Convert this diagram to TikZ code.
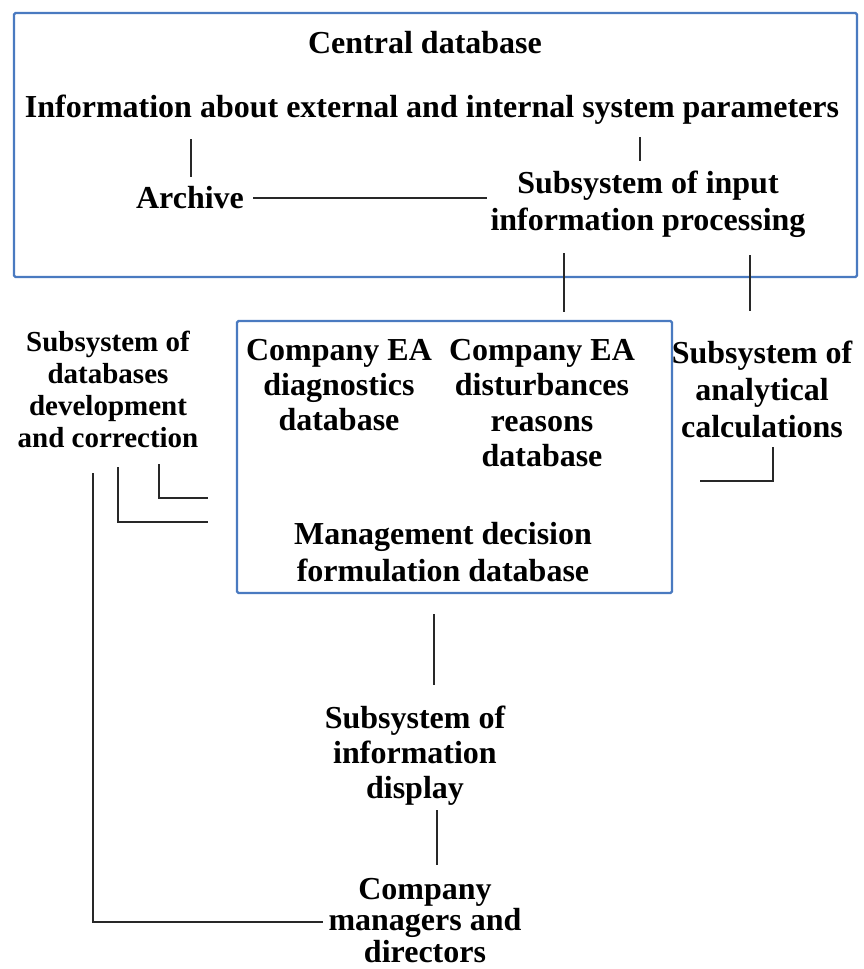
\documentclass[tikz,border=0pt]{standalone}
\usepackage{fontspec}
\setmainfont{Liberation Serif}
% fixed height for the first line of every label, so that north anchors line up
\newcommand\firststrut{\rule{0pt}{24pt}}
\definecolor{frameblue}{RGB}{74,122,192}
\definecolor{wire}{RGB}{40,40,40}
\begin{document}
\begin{tikzpicture}[x=1pt,y=-1pt,
  lbl/.style={inner sep=0pt, anchor=north, align=center,
    font=\fontsize{32}{#1}\selectfont\bfseries},
  lbl/.default=35,
  smalllbl/.style={inner sep=0pt, anchor=north, align=center,
    font=\fontsize{29}{#1}\selectfont\bfseries},
  smalllbl/.default=32,
  frame/.style={draw=frameblue, line width=2.4pt, rounded corners=1.5pt},
  wireline/.style={draw=wire, line width=2.2pt}]
\useasboundingbox (0,0) rectangle (864,969);

% the two framed groups
\draw[frame] (14,13) rectangle (857,277);
\draw[frame] (237,321) rectangle (672,593);

% labels in the central database frame
\node[lbl] (central) at (425,29) {\firststrut Central database};
\node[lbl] (info) at (432,93) {\firststrut Information about external and internal system parameters};
\node[lbl] (archive) at (190,184) {\firststrut Archive};
\node[lbl=37] (input) at (648,169) {\firststrut Subsystem of input\\information processing};

% labels in and around the lower frame
\node[smalllbl=32] (dbdev) at (108,327) {\firststrut Subsystem of\\databases\\development\\and correction};
\node[lbl=35] (diag) at (339,336) {\firststrut Company EA\\diagnostics\\database};
\node[lbl=35.5] (dist) at (542,336) {\firststrut Company EA\\disturbances\\reasons\\database};
\node[lbl=37] (mgmt) at (443,520) {\firststrut Management decision\\formulation database};
\node[lbl=37] (analytic) at (762,339) {\firststrut Subsystem of\\analytical\\calculations};

% bottom chain
\node[lbl=35] (display) at (415,704) {\firststrut Subsystem of\\information\\display};
\node[lbl=31.5] (managers) at (425,875) {\firststrut Company\\managers and\\directors};

% connector end points
\coordinate (infoA) at (191,139);
\coordinate (archA) at (191,177);
\coordinate (infoB) at (640,137);
\coordinate (inpA)  at (640,161);
\coordinate (archR) at (253,198);
\coordinate (inpL)  at (487,198);
\coordinate (inpB1) at (564,253);
\coordinate (boxT)  at (564,312);
\coordinate (inpB2) at (750,255);
\coordinate (anaT)  at (750,311);
\coordinate (anaB)  at (773,447);
\coordinate (boxR)  at (700,481);
\coordinate (devB1) at (159,464);
\coordinate (boxL1) at (208,498);
\coordinate (devB2) at (118,467);
\coordinate (boxL2) at (208,522);
\coordinate (devB3) at (93,473);
\coordinate (mgrL)  at (323,922);
\coordinate (boxB)  at (434,614);
\coordinate (dispT) at (434,685);
\coordinate (dispB) at (437,810);
\coordinate (mgrT)  at (437,865);

% connectors
\draw[wireline] (infoA) -- (archA);
\draw[wireline] (infoB) -- (inpA);
\draw[wireline] (archR) -- (inpL);
\draw[wireline] (inpB1) -- (boxT);
\draw[wireline] (inpB2) -- (anaT);
\draw[wireline] (anaB) |- (boxR);
\draw[wireline] (devB1) |- (boxL1);
\draw[wireline] (devB2) |- (boxL2);
\draw[wireline] (devB3) |- (mgrL);
\draw[wireline] (boxB) -- (dispT);
\draw[wireline] (dispB) -- (mgrT);
\end{tikzpicture}
\end{document}
